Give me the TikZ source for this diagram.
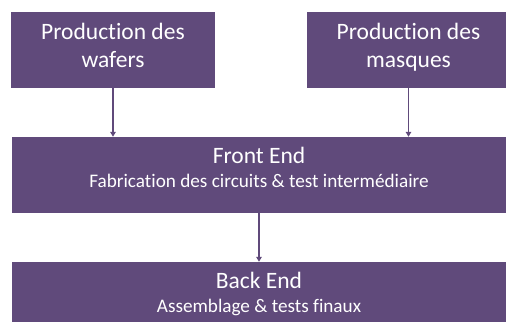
\documentclass[tikz,border=0pt]{standalone}
\usepackage{fontspec}
\setmainfont{Carlito}[Ligatures=CommonOff]
\usetikzlibrary{arrows.meta}
\definecolor{tim}{HTML}{604A7B}
\tikzset{
	khoi/.style={fill=tim,draw=none,inner sep=0pt},
	chu/.style={text=white,align=center,inner sep=0pt,anchor=base},
	tieude/.style={font=\fontsize{23.5}{28}\selectfont},
	phude/.style={font=\fontsize{19.2}{22}\selectfont},
	muiten/.style={draw=tim,line width=1.4pt,-{Triangle[length=5pt,width=5.5pt]}}
}
\begin{document}
\begin{tikzpicture}[x=1pt,y=-1pt]
	\useasboundingbox (0,0) rectangle (506,331); %Khung anh
	\foreach \x/\y/\t in {113/wafer/wafers,408.5/masque/masques}% Hai khoi tren
	{\node[khoi,minimum width=204,minimum height=76] (\y) at (\x,50) {};
	\node[chu,tieude] (\y-t) at (\x,68) {Production des\\\t};}%anchor=base -> dong cuoi
	\node[khoi,minimum width=494,minimum height=76] (front) at (259,175) {};
	\node[khoi,minimum width=494,minimum height=60] (back) at (259,292) {};
	\foreach \n/\y/\t/\s in {front/164/Front End/Fabrication des circuits \& test interm\'ediaire,
		back/288.3/Back End/Assemblage \& tests finaux}% Chu trong hai khoi duoi
	{\node[chu,tieude] (\n-t) at (259,\y) {\t};
	\node[chu,phude] (\n-s) at (259,\y+23.7) {\s};}
	\foreach \x in {wafer,masque}% Mui ten xuong Front End
	\draw[muiten] (\x) -- (\x |- front.north);
	\draw[muiten] (front) -- (back);%Front End -> Back End
\end{tikzpicture}
\end{document}
